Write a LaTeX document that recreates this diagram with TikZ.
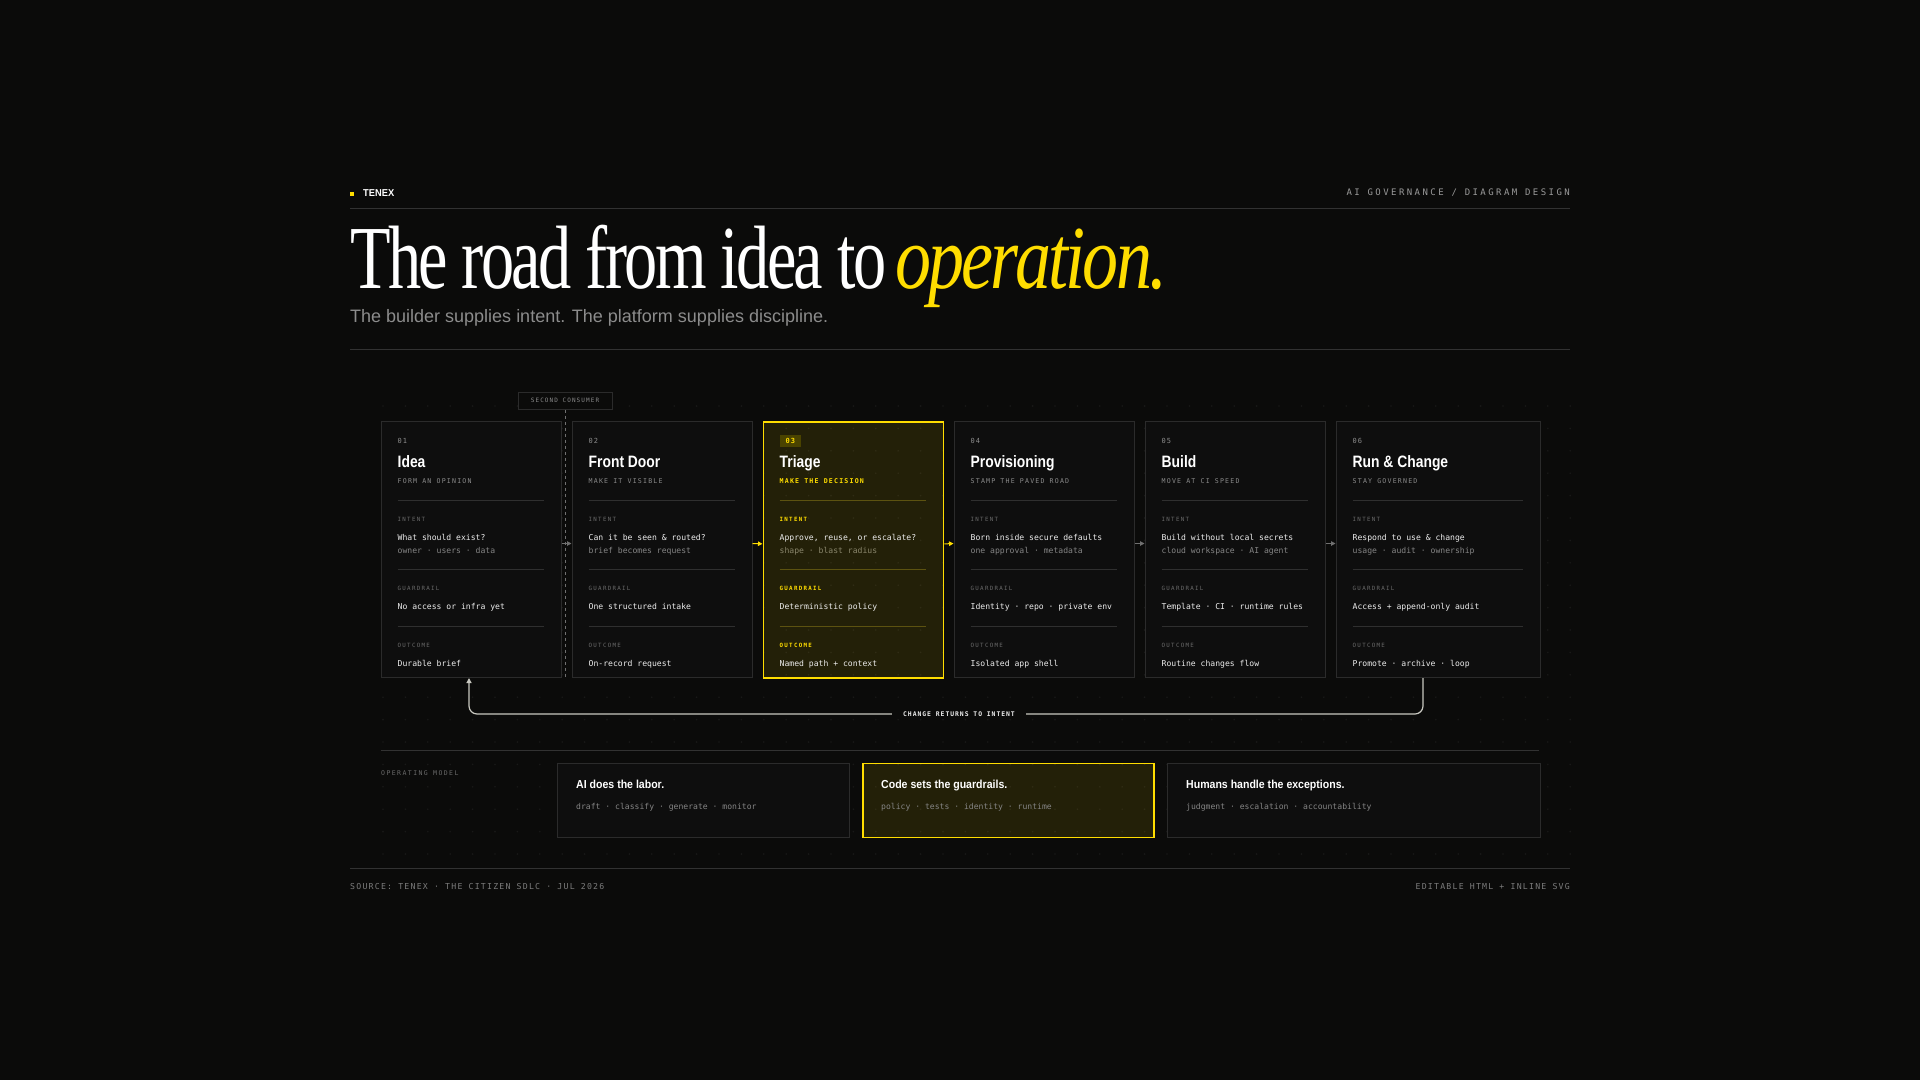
\documentclass[tikz,border=0pt]{standalone}
\usepackage{fontspec}
\usepackage{graphicx}
\setmainfont{Liberation Serif}
\newfontfamily\sansf{Liberation Sans}
\newfontfamily\monof{DejaVu Sans Mono}
\usetikzlibrary{arrows.meta,calc}
\definecolor{bg}{HTML}{0B0B0A}
\definecolor{dotc}{HTML}{191918}
\definecolor{cardfill}{HTML}{0E0E0E}
\definecolor{cardline}{HTML}{2B2B2B}
\definecolor{sepc}{HTML}{2F2F2F}
\definecolor{hlinec}{HTML}{323232}
\definecolor{accent}{HTML}{FFDD00}
\definecolor{badge}{HTML}{4A4300}
\definecolor{trisep}{HTML}{5C5210}
\definecolor{txtw}{HTML}{EDEDED}
\definecolor{subg}{HTML}{858585}
\definecolor{lblg}{HTML}{6A6A6A}
\definecolor{numg}{HTML}{8C8C8C}
\definecolor{capg}{HTML}{8A8A8A}
\definecolor{hdrg}{HTML}{9A9A9A}
\definecolor{footg}{HTML}{7C7C7C}
\definecolor{loopc}{HTML}{C8C8C0}
\definecolor{arrg}{HTML}{707070}
\definecolor{trisub}{HTML}{8A866C}
\definecolor{subtitlec}{HTML}{8C8C8C}
\newcommand\fs[1]{\fontsize{#1}{#1}\selectfont}
\newcommand\ls[1]{\addfontfeature{LetterSpace=#1}}
\newcommand\card[9]{%
\node[cardbox,thiscard,minimum width=#3pt,minimum height=256pt] (c#1) at (#2,421) {};
\node[num,thisnum] (c#1n) at (#2+17,441) {0#1};
\node[ttl] (c#1t) at (#2+17,462) {\scalebox{0.84}[1]{#4}};
\node[capsub,thissub] (c#1s) at (#2+17,481) {#5};
\draw[sepl,thissep] (#2+17,500) -- (#2+#3-17,500);
\node[lbl,thislbl] (c#1a) at (#2+17,519) {INTENT};
\node[body] (c#1b) at (#2+17,537) {#6};
\node[bodysub,thisbsub] (c#1c) at (#2+17,550) {#7};
\draw[sepl,thissep] (#2+17,569) -- (#2+#3-17,569);
\node[lbl,thislbl] (c#1d) at (#2+17,588) {GUARDRAIL};
\node[body] (c#1e) at (#2+17,606) {#8};
\draw[sepl,thissep] (#2+17,626) -- (#2+#3-17,626);
\node[lbl,thislbl] (c#1f) at (#2+17,645) {OUTCOME};
\node[body] (c#1g) at (#2+17,663) {#9};
}
\begin{document}
\begin{tikzpicture}[x=1pt,y=-1pt,
  txt/.style={inner sep=0pt,anchor=base west},
  cardbox/.style={draw=cardline,fill=cardfill,line width=1pt,inner sep=0pt,anchor=north west},
  num/.style={txt,yshift=-2.6pt,text=numg,font=\monof\fs{7}\ls{15}},
  ttl/.style={txt,yshift=-5.9pt,text=white,font=\sansf\bfseries\fs{16.5}},
  capsub/.style={txt,yshift=-2.4pt,text=capg,font=\monof\fs{6.6}\ls{18}},
  lbl/.style={txt,yshift=-2.1pt,text=lblg,font=\monof\fs{5.8}\ls{22}},
  body/.style={txt,yshift=-3pt,text=txtw,font=\monof\fs{8.1}},
  bodysub/.style={txt,yshift=-3pt,text=subg,font=\monof\fs{8.1}},
  sepl/.style={draw=sepc,line width=1pt},
  thiscard/.style={},thisnum/.style={},thissub/.style={},thissep/.style={},thislbl/.style={},thisbsub/.style={},
  flowg/.style={draw=arrg,line width=1pt,-{Triangle[length=4.5pt,width=4.5pt]}},
  flowy/.style={draw=accent,line width=1pt,-{Triangle[length=4.5pt,width=4.5pt]}},
  opbox/.style={draw=cardline,fill=cardfill,line width=1pt,inner sep=0pt,anchor=north west,minimum height=74pt},
  optitle/.style={txt,yshift=-4.2pt,text=white,font=\sansf\bfseries\fs{11.6}},
  opsub/.style={txt,yshift=-3pt,text=subg,font=\monof\fs{8.1}},
  hline/.style={draw=hlinec,line width=1pt}
]
\useasboundingbox (0,0) rectangle (1920,1080);
\fill[bg] (0,0) rectangle (1920,1080);
% dot grid
\foreach \i in {0,...,53} \foreach \j in {0,...,20} \fill[dotc] (383+\i*22.4,406+\j*22.4) circle (0.9pt);

% header
\node[fill=accent,minimum size=4.5pt,inner sep=0pt] (sq) at (352,194) {};
\node[txt,yshift=-3.6pt,text=white,font=\sansf\bfseries\fs{10}] (brand) at (363,193) {\scalebox{0.93}[1]{TENEX}};
\node[inner sep=0pt,anchor=base east,yshift=-3.3pt,text=hdrg,font=\monof\fs{9}\ls{27}] (hdr) at (1570,192) {AI GOVERNANCE / DIAGRAM DESIGN};
\draw[hline] (350,208) -- (1570,208);
\node[inner sep=0pt,anchor=base west,font=\fs{90}\ls{-4}] (title) at (350,288)
  {\textcolor{white}{\scalebox{0.737}[1]{The road from idea to}}\hspace{9pt}\textcolor{accent}{\scalebox{0.8}[1]{\itshape operation.}}};
\node[inner sep=0pt,anchor=base west,text=subtitlec,font=\sansf\fs{18}] (subt) at (350,322)
  {The builder supplies intent. The platform supplies discipline.};
\draw[hline] (350,349) -- (1570,349);

% cards
\card{1}{380.5}{180}{Idea}{FORM AN OPINION}{What should exist?}{owner · users · data}{No access or infra yet}{Durable brief}
\card{2}{571.5}{180}{Front Door}{MAKE IT VISIBLE}{Can it be seen \& routed?}{brief becomes request}{One structured intake}{On-record request}
\begin{scope}
\tikzset{
  thiscard/.style={draw=accent,line width=1.8pt,fill=accent,fill opacity=0.1},
  thisnum/.style={fill=badge,inner xsep=6pt,inner ysep=3.5pt,text=accent,font=\monof\bfseries\fs{7}\ls{15}},
  thissub/.style={text=accent,font=\monof\bfseries\fs{6.6}\ls{18}},
  thissep/.style={draw=trisep},
  thislbl/.style={text=accent,font=\monof\bfseries\fs{5.8}\ls{22}},
  thisbsub/.style={text=trisub}}
\card{3}{762.5}{180}{Triage}{MAKE THE DECISION}{Approve, reuse, or escalate?}{shape · blast radius}{Deterministic policy}{Named path + context}
\end{scope}
\card{4}{953.5}{180}{Provisioning}{STAMP THE PAVED ROAD}{Born inside secure defaults}{one approval · metadata}{Identity · repo · private env}{Isolated app shell}
\card{5}{1144.5}{180}{Build}{MOVE AT CI SPEED}{Build without local secrets}{cloud workspace · AI agent}{Template · CI · runtime rules}{Routine changes flow}
\card{6}{1335.5}{204}{Run \& Change}{STAY GOVERNED}{Respond to use \& change}{usage · audit · ownership}{Access + append-only audit}{Promote · archive · loop}

% second consumer
\node[draw=cardline,fill=bg,line width=1pt,minimum width=94pt,minimum height=17pt,inner sep=0pt,text=capg,font=\monof\fs{6}\ls{18}] (sc) at (565,400.5) {SECOND CONSUMER};
\coordinate (scend) at (565,677);
\draw[draw=arrg,line width=1pt,dash pattern=on 3pt off 3pt] (sc.south) -- (scend);

% flow arrows
\draw[flowg] ([yshift=6pt]c1.east) -- ([yshift=6pt]c2.west);
\draw[flowy] ([yshift=6pt]c2.east) -- ([yshift=6pt]c3.west);
\draw[flowy] ([yshift=6pt]c3.east) -- ([yshift=6pt]c4.west);
\draw[flowg] ([yshift=6pt]c4.east) -- ([yshift=6pt]c5.west);
\draw[flowg] ([yshift=6pt]c5.east) -- ([yshift=6pt]c6.west);

% loop back
\coordinate (loopmid) at (959,714);
\draw[draw=loopc,line width=1.2pt,rounded corners=8pt,-{Triangle[length=5pt,width=5pt]}]
  ([xshift=-15pt]c6.south) |- (loopmid) -| ([xshift=-2pt]c1.south);
\node[fill=bg,inner xsep=11pt,inner ysep=3pt,text=txtw,font=\monof\bfseries\fs{6.4}\ls{15}] (loopl) at (loopmid) {CHANGE RETURNS TO INTENT};

% operating model
\draw[hline] (381,750) -- (1539,750);
\node[txt,yshift=-2.4pt,text=lblg,font=\monof\fs{6.5}\ls{22}] (opm) at (381,773) {OPERATING MODEL};
\node[opbox,minimum width=292pt] (o1) at (557,762.5) {};
\node[opbox,minimum width=291pt,draw=accent,line width=1.6pt,fill=accent,fill opacity=0.1] (o2) at (862,762.5) {};
\node[opbox,minimum width=373pt] (o3) at (1167,762.5) {};
\node[optitle] (o1t) at (576,784) {\scalebox{0.91}[1]{AI does the labor.}};
\node[opsub] (o1s) at (576,806) {draft · classify · generate · monitor};
\node[optitle] (o2t) at (881,784) {\scalebox{0.91}[1]{Code sets the guardrails.}};
\node[opsub] (o2s) at (881,806) {policy · tests · identity · runtime};
\node[optitle] (o3t) at (1186,784) {\scalebox{0.91}[1]{Humans handle the exceptions.}};
\node[opsub] (o3s) at (1186,806) {judgment · escalation · accountability};

% footer
\draw[hline] (350,868) -- (1570,868);
\node[txt,yshift=-3pt,text=footg,font=\monof\fs{8.2}\ls{15}] (fl) at (350,886) {SOURCE: TENEX · THE CITIZEN SDLC · JUL 2026};
\node[inner sep=0pt,anchor=base east,yshift=-3pt,text=footg,font=\monof\fs{8.2}\ls{15}] (fr) at (1570,886) {EDITABLE HTML + INLINE SVG};
\end{tikzpicture}
\end{document}
